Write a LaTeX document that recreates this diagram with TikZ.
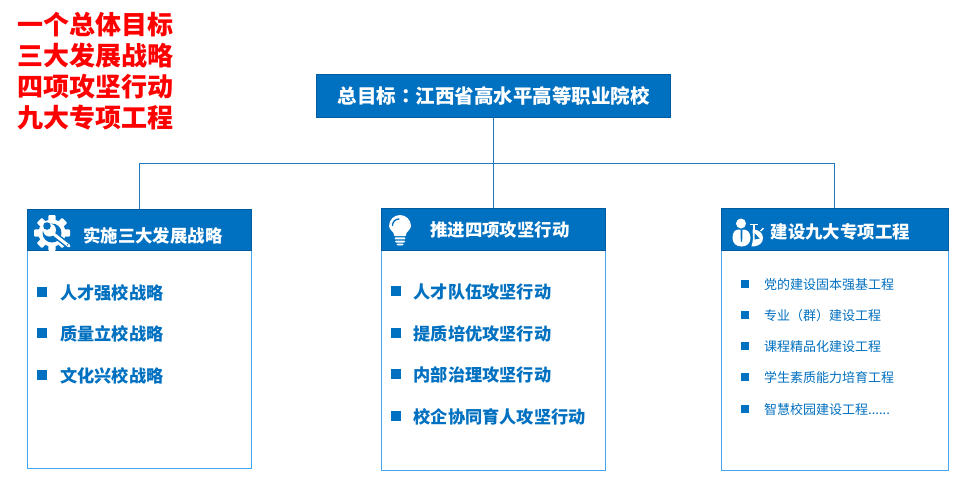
\documentclass[tikz,border=0pt]{standalone}
\usepackage{fontspec}
\setmainfont{Noto Sans CJK SC}
\newfontfamily\tcfont{Noto Sans CJK TC}
\definecolor{hdrblue}{HTML}{0070C0}
\definecolor{hdredge}{HTML}{005A9E}
\definecolor{panelline}{HTML}{45A5EE}
\definecolor{linkblue}{HTML}{1F78BE}
\tikzset{
  x=1pt,y=-1pt,
  goalbox/.style={draw=hdredge,fill=hdrblue,line width=1pt,text=white,font=\bfseries\fontsize{19.5}{22}\selectfont,inner sep=0pt,anchor=north west},
  panel/.style={draw=panelline,fill=white,line width=1pt,inner sep=0pt,anchor=north west},
  header/.style={draw=hdredge,fill=hdrblue,line width=1pt,inner sep=0pt,anchor=north west},
  headtext/.style={text=white,font=\bfseries\fontsize{17.4}{20}\selectfont,anchor=west,inner sep=0pt},
  itemtext/.style={text=hdrblue,font=\bfseries\fontsize{17.2}{20}\selectfont,anchor=west,inner sep=0pt},
  smalltext/.style={text=hdrblue,font=\fontsize{13}{15}\selectfont,anchor=west,inner sep=0pt},
  bulletbox/.style={fill=hdrblue,minimum width=10pt,minimum height=10pt,inner sep=0pt},
  smallbullet/.style={fill=hdrblue,minimum width=8pt,minimum height=8pt,inner sep=0pt},
  titletext/.style={text=red,font=\bfseries\fontsize{26}{30}\selectfont,anchor=west,inner sep=0pt},
  link/.style={draw=linkblue,line width=1pt},
}
\begin{document}
\begin{tikzpicture}
\useasboundingbox (0,0) rectangle (966,485);
% title
\node[titletext] (t1) at (17,25) {一个总体目标};
\node[titletext] (t2) at (17,56) {三大发展战略};
\node[titletext] (t3) at (17,86.5) {四项攻坚行动};
\node[titletext] (t4) at (17,118) {九大专项工程};
% goal
\node[goalbox,minimum width=354pt,minimum height=43pt] (goal) at (316.3,74) {总目标{\tcfont ：}江西省高水平高等职业院校};
% panels
\node[panel,minimum width=224pt,minimum height=259pt] (p1) at (27,209) {};
\node[panel,minimum width=224pt,minimum height=262pt] (p2) at (381,208) {};
\node[panel,minimum width=227pt,minimum height=262pt] (p3) at (720.7,208) {};
\node[header,minimum width=224pt,minimum height=41pt] (h1) at (27,209) {};
\node[header,minimum width=224pt,minimum height=42pt] (h2) at (381,208) {};
\node[header,minimum width=227pt,minimum height=42pt] (h3) at (720.7,208) {};
% connectors
\coordinate (j) at (goal.south |- 0,163);
\draw[link] (goal.south -| h2.north) -- (h2.north);
\draw[link] (h1.north) -- (h1.north |- j) -- (h3.north |- j) -- (h3.north);
% header texts
\node[headtext] (ht1) at (83,236) {实施三大发展战略};
\node[headtext] (ht2) at (430,230) {推进四项攻坚行动};
\node[headtext] (ht3) at (770.5,232) {建设九大专项工程};
% gear icon
\begin{scope}[shift={(52,233)}]
  \foreach \a in {0,45,...,315}
    \fill[white,rotate=\a,rounded corners=1pt] (-3.6,-18) rectangle (3.6,-10);
  \fill[white] (0,0) circle (13.5);
  \fill[hdrblue] (0,0) circle (9.5);
  \draw[hdrblue,line width=6pt,line cap=round] (-1,-1) -- (17,13);
  \draw[white,line width=3pt,line cap=round] (-1,-1) -- (17,13);
  \fill[white] (-2.5,-3) circle (6.5);
  \fill[hdrblue] (-5,-7) circle (3.8);
  \fill[hdrblue] (15.5,11.8) circle (0.8);
\end{scope}
% bulb icon
\begin{scope}[shift={(400,227)}]
  \fill[white] (-5.5,9) .. controls (-6,4) and (-11,3) .. (-11,-1) arc[start angle=180,end angle=360,radius=11] .. controls (11,3) and (6,4) .. (5.5,9) -- cycle;
  \draw[hdrblue,line width=1.3pt,line cap=round] (-7.5,-1.5) arc[start angle=180,end angle=270,radius=6.5];
  \fill[white,rounded corners=1pt] (-5.5,10.3) rectangle (5.5,12.3);
  \fill[white,rounded corners=1pt] (-5,13.5) rectangle (5,15.5);
  \fill[white,rounded corners=1pt] (-3.5,16.5) rectangle (3.5,18.3);
\end{scope}
% people icon
\fill[white] (741,223.5) circle (5);
\fill[white] (732.5,238) .. controls (732.5,232) and (735,229.5) .. (739,229.5) -- (743,229.5) .. controls (747,229.5) and (750.5,232) .. (750.5,238) .. controls (750.5,243) and (747,246.5) .. (741.5,246.5) .. controls (736,246.5) and (732.5,243) .. (732.5,238) -- cycle;
\fill[hdrblue] (740.5,229) -- (742.5,229) -- (742.2,241) .. controls (742,242.5) and (741,242.5) .. (740.8,241) -- cycle;
% stopwatch
\fill[white] (752.5,229.5) .. controls (759,229.5) and (763,233) .. (763,238) .. controls (763,243) and (759,246.5) .. (751.5,246.5) .. controls (752.5,243) and (753,240) .. (753,237) -- cycle;
\fill[hdrblue] (754.5,233) -- (759.5,238.5) -- (754.5,239.5) -- cycle;
\fill[white] (750,223.5) rectangle (757.5,225.2);
\fill[white] (753,225) rectangle (755,229.8);
\fill[white,rotate around={45:(762,229.5)}] (760,228.8) rectangle (764,230.2);
% panel 1 items
\node[bulletbox] (b11) at (41.5,292) {};
\node[itemtext] (i11) at (60,293) {人才强校战略};
\node[bulletbox] (b12) at (41.5,333) {};
\node[itemtext] (i12) at (60,334) {质量立校战略};
\node[bulletbox] (b13) at (41.5,375) {};
\node[itemtext] (i13) at (60,376) {文化兴校战略};
% panel 2 items
\node[bulletbox] (b21) at (395.5,291) {};
\node[itemtext] (i21) at (413.5,292) {人才队伍攻坚行动};
\node[bulletbox] (b22) at (395.5,333) {};
\node[itemtext] (i22) at (413.5,334) {提质培优攻坚行动};
\node[bulletbox] (b23) at (395.5,374) {};
\node[itemtext] (i23) at (413.5,375) {内部治理攻坚行动};
\node[bulletbox] (b24) at (395.5,416) {};
\node[itemtext] (i24) at (413.5,417) {校企协同育人攻坚行动};
% panel 3 items
\node[smallbullet] (b31) at (745,284) {};
\node[smalltext] (i31) at (764,285) {党的建设固本强基工程};
\node[smallbullet] (b32) at (745,315) {};
\node[smalltext] (i32) at (764,316) {专业{\tcfont （}群{\tcfont ）}建设工程};
\node[smallbullet] (b33) at (745,346) {};
\node[smalltext] (i33) at (764,347) {课程精品化建设工程};
\node[smallbullet] (b34) at (745,377) {};
\node[smalltext] (i34) at (764,378) {学生素质能力培育工程};
\node[smallbullet] (b35) at (745,409) {};
\node[smalltext] (i35) at (764,410) {智慧校园建设工程......};
\end{tikzpicture}
\end{document}
